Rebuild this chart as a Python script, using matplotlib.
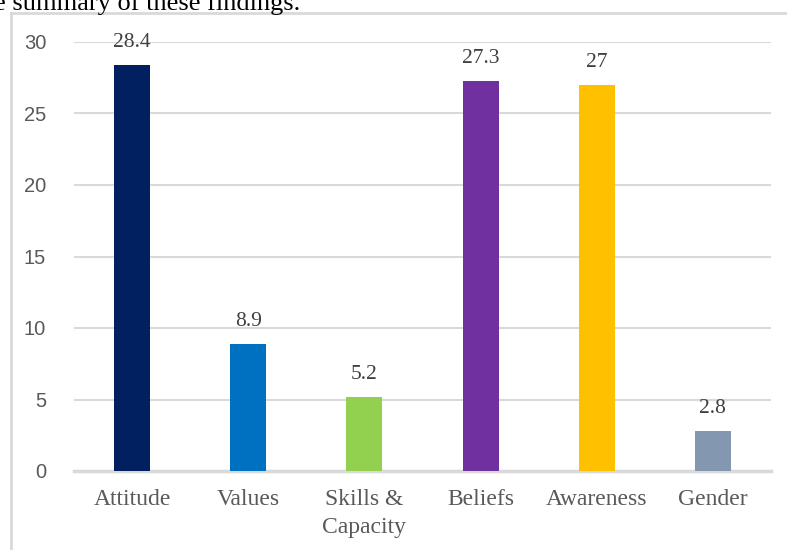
import matplotlib.pyplot as plt
from matplotlib.lines import Line2D

# Data
categories = ['Attitude', 'Values', 'Skills &\nCapacity', 'Beliefs', 'Awareness', 'Gender']
values = [28.4, 8.9, 5.2, 27.3, 27, 2.8]
labels = ['28.4', '8.9', '5.2', '27.3', '27', '2.8']
colors = ['#002060', '#0070C0', '#92D050', '#7030A0', '#FFC000', '#8497B0']
yticks = [0, 5, 10, 15, 20, 25, 30]

fig = plt.figure(figsize=(7.87, 5.5), dpi=100)
ax = fig.add_axes([74/787, 1-471/550, 697/787, 429/550])

x = range(len(categories))
ax.bar(x, values, width=0.31, color=colors, zorder=3)

# Value labels above bars
for i, v in enumerate(values):
    ax.annotate(labels[i], (i, v), xytext=(0, 9), textcoords='offset points',
                ha='center', va='bottom', fontsize=15.5, color='#404040',
                family='Liberation Serif', annotation_clip=False)

ax.set_xlim(-0.5, len(categories) - 0.5)
ax.set_ylim(0, 30)
ax.set_yticks(yticks)
ax.set_xticks(list(x))
ax.set_xticklabels(categories, family='Liberation Serif', fontsize=17,
                   color='#595959', linespacing=1.45)
for t in ax.get_yticklabels():
    t.set_family('Liberation Sans')
    t.set_fontsize(14.5)
    t.set_color('#595959')
ax.tick_params(axis='y', length=0, pad=20)
ax.tick_params(axis='x', length=0, pad=13)

ax.grid(axis='y', color='#d9d9d9', lw=1.5, zorder=0)
for s in ['top', 'right', 'left']:
    ax.spines[s].set_visible(False)
ax.spines['bottom'].set_color('#d9d9d9')
ax.spines['bottom'].set_linewidth(2.5)

# Surrounding chart border and cropped caption text
fig.add_artist(Line2D([11/787, 1], [1-13/550, 1-13/550], color='#d9d9d9', lw=2))
fig.add_artist(Line2D([11/787, 11/787], [0, 1-13/550], color='#d9d9d9', lw=2))
fig.text(-6/787, 1-10/550, 'e summary of these findings.', family='Liberation Serif',
         fontsize=19, color='black', va='baseline', ha='left')

fig.savefig('out.png', dpi=100)
